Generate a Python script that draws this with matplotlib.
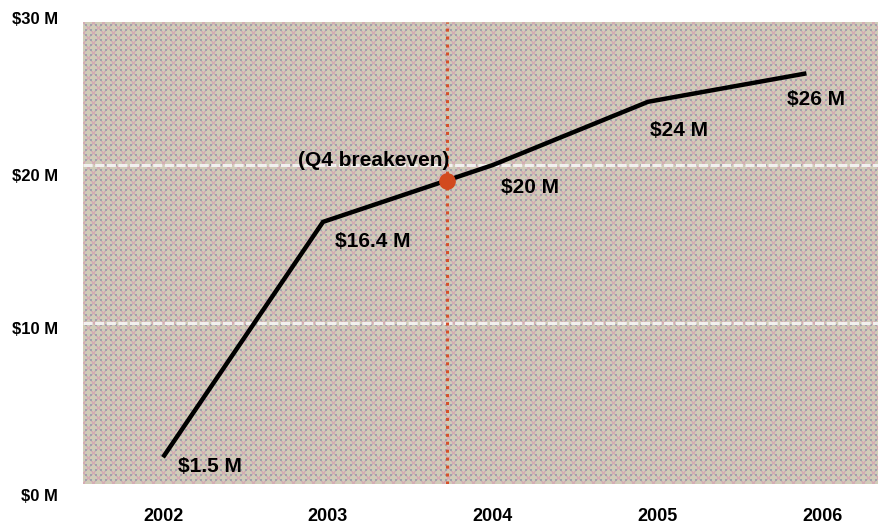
import numpy as np
import matplotlib
matplotlib.use('Agg')
import matplotlib.pyplot as plt
import matplotlib.transforms as mtransforms

plt.rcParams['font.family'] = ['Liberation Sans', 'DejaVu Sans']
plt.rcParams['font.weight'] = 'bold'

# revenue data (year position, $M)
years = [2002.0, 2002.97, 2004.0, 2004.94, 2005.9]
revenue = [1.5, 16.4, 20.0, 24.0, 25.8]
point_labels = ['$1.5 M', '$16.4 M', '$20 M', '$24 M', '$26 M']
label_offsets = [(47, -9), (50, -20), (37, -23), (31, -29), (10, -26)]

breakeven_x = 2003.72
breakeven_y = 19.0

tick_years = [2002, 2003, 2004, 2005, 2006]
ytick_text = ['$30 M', '$20 M', '$10 M', '$0 M']
ytick_pos = [29.2, 19.3, 9.6, -0.95]
grid_vals = [10, 20]

fig = plt.figure(figsize=(8.79, 5.27), dpi=100)
ax = fig.add_axes([83/879, 43/527, 796/879, 462/527])
xlim = (2001.515, 2006.34)
ylim = (-0.19, 29.05)

# dithered background texture
tile = np.zeros((10, 10, 3))
tile[:, :] = (208, 204, 184)
for i in range(10):
    for j in range(10):
        if (i + j) % 10 in (0, 1) or (i - j) % 10 in (0, 1):
            tile[i, j] = (212, 172, 180)
        if i % 5 in (2, 3) and j % 5 in (2, 3):
            tile[i, j] = (162, 160, 172)
bg = np.tile(tile, (47, 80, 1))[:462, :796] / 255.0
ax.imshow(bg, extent=(xlim[0], xlim[1], ylim[0], ylim[1]), aspect='auto',
          interpolation='nearest', zorder=0)

for g in grid_vals:
    ax.axhline(g, color='#f2f0ef', lw=2.2, ls=(0, (3, 0.8)), zorder=1)

ax.axvline(breakeven_x, color='#d4502a', lw=2.2, ls=(0, (1, 1.6)), zorder=2)

ax.plot(years, revenue, color='black', lw=3.2, solid_joinstyle='miter',
        solid_capstyle='butt', zorder=3)
ax.plot([breakeven_x], [breakeven_y], 'o', color='#d24a1e', ms=11, zorder=4)

for x, y, t, off in zip(years, revenue, point_labels, label_offsets):
    ax.annotate(t, (x, y), xytext=off, textcoords='offset pixels',
                ha='center', va='center', fontsize=15, fontweight='bold')
ax.annotate('(Q4 breakeven)', (breakeven_x, breakeven_y), xytext=(-73, 20),
            textcoords='offset pixels', ha='center', va='center',
            fontsize=15, fontweight='bold')

ax.set_xlim(*xlim)
ax.set_ylim(*ylim)
ax.set_xticks(tick_years)
ax.set_xticklabels([str(y) for y in tick_years], fontsize=13, fontweight='bold')
ax.tick_params(axis='x', length=0, pad=17)
ax.set_yticks([])

trans = mtransforms.blended_transform_factory(ax.transAxes, ax.transData)
for t, yp in zip(ytick_text, ytick_pos):
    ax.text(-0.031, yp, t, transform=trans, ha='right', va='center',
            fontsize=12, fontweight='bold', clip_on=False)

for s in ax.spines.values():
    s.set_visible(False)

fig.savefig('out.png', dpi=100)
